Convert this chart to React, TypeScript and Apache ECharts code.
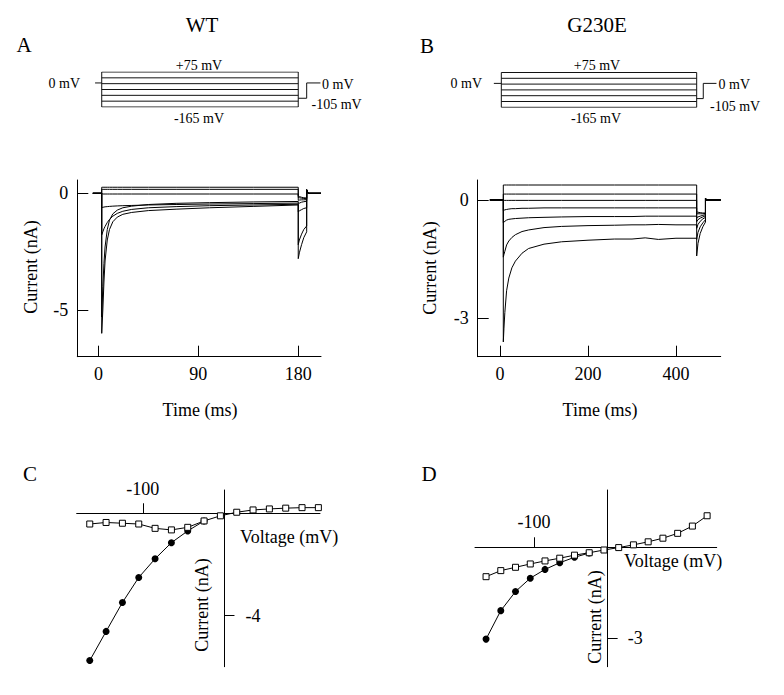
import React, { useEffect, useRef } from "react";
import * as echarts from "echarts";

const FONT = '"Liberation Serif", "Times New Roman", Times, serif';

// ---------- Voltage protocol (mV) ----------
const protocolSteps = [75, 35, -5, -45, -85, -125, -165];
const holdingPotential = 0;
const tailPotential = -105;

// protocol timing (ms)  [holdStart, stepStart, stepEnd, tailEnd, postEnd]
const wtProtocolTimes = [-3, 3, 180, 187.6, 200];
const g230eProtocolTimes = [-14, 3, 447, 462, 492];

// ---------- Panel A: WT current traces (time ms, current nA) ----------
const wtTime = [3, 4, 5, 6, 8, 10, 13, 17, 22, 30, 45, 70, 100, 140, 180];
const wtP75 = [0.26, 0.26, 0.26, 0.26, 0.26, 0.26, 0.26, 0.26, 0.26, 0.26, 0.26, 0.26, 0.26, 0.26, 0.26];
const wtP35 = [0.17, 0.17, 0.17, 0.17, 0.17, 0.17, 0.17, 0.17, 0.17, 0.17, 0.17, 0.17, 0.17, 0.17, 0.17];
const wtM5 = [-0.03, -0.03, -0.03, -0.03, -0.03, -0.03, -0.03, -0.03, -0.03, -0.03, -0.03, -0.03, -0.03, -0.03, -0.03];
const wtM45 = [-0.62, -0.6, -0.59, -0.58, -0.57, -0.56, -0.55, -0.54, -0.53, -0.52, -0.5, -0.48, -0.46, -0.44, -0.42];
const wtM85 = [-1.78, -1.65, -1.52, -1.42, -1.25, -1.12, -0.98, -0.86, -0.77, -0.69, -0.62, -0.57, -0.53, -0.5, -0.47];
const wtM125 = [-5.3, -4.0, -3.0, -2.3, -1.55, -1.15, -0.88, -0.72, -0.62, -0.55, -0.48, -0.43, -0.4, -0.37, -0.35];
const wtM165 = [-6.0, -5.0, -3.8, -2.9, -2.0, -1.55, -1.22, -1.02, -0.9, -0.82, -0.74, -0.68, -0.62, -0.56, -0.5];
const wtTailTime = [180, 181, 183, 185, 187.6];
const wtTailP75 = [-0.12, -0.14, -0.17, -0.19, -0.2];
const wtTailP35 = [-0.18, -0.19, -0.21, -0.22, -0.23];
const wtTailM5 = [-0.3, -0.29, -0.28, -0.28, -0.27];
const wtTailM45 = [-0.45, -0.42, -0.38, -0.36, -0.34];
const wtTailM85 = [-0.8, -0.75, -0.7, -0.65, -0.62];
const wtTailM125 = [-2.2, -2.0, -1.75, -1.55, -1.4];
const wtTailM165 = [-2.8, -2.55, -2.2, -1.9, -1.65];

// ---------- Panel B: G230E current traces ----------
const gTime = [7.5, 9, 11, 15, 20, 27, 35, 50, 65, 100, 140, 200, 260, 300, 330, 360, 400, 447];
const gP75 = [0.38, 0.38, 0.38, 0.38, 0.38, 0.38, 0.38, 0.38, 0.38, 0.38, 0.38, 0.38, 0.38, 0.38, 0.38, 0.38, 0.38, 0.38];
const gP35 = [0.15, 0.15, 0.15, 0.15, 0.15, 0.15, 0.15, 0.15, 0.15, 0.15, 0.15, 0.15, 0.15, 0.15, 0.15, 0.15, 0.15, 0.15];
const gM5 = [-0.01, -0.01, -0.01, -0.01, -0.01, -0.01, -0.01, -0.01, -0.01, -0.01, -0.01, -0.01, -0.01, -0.01, -0.01, -0.01, -0.01, -0.01];
const gM45 = [-0.27, -0.26, -0.25, -0.24, -0.23, -0.22, -0.22, -0.21, -0.21, -0.2, -0.2, -0.2, -0.2, -0.2, -0.2, -0.2, -0.2, -0.2];
const gM85 = [-0.58, -0.56, -0.54, -0.51, -0.49, -0.48, -0.47, -0.46, -0.45, -0.44, -0.43, -0.42, -0.42, -0.42, -0.41, -0.41, -0.41, -0.41];
const gM125 = [-1.45, -1.38, -1.3, -1.14, -1.04, -0.95, -0.88, -0.8, -0.76, -0.7, -0.67, -0.65, -0.64, -0.63, -0.63, -0.62, -0.63, -0.63];
const gM165 = [-3.6, -3.25, -2.85, -2.3, -1.98, -1.72, -1.55, -1.35, -1.23, -1.12, -1.06, -1.02, -0.99, -0.99, -0.96, -1.0, -0.97, -0.97];
const gTailTime = [447, 450, 455, 461, 467];
const gTailP75 = [-0.3, -0.31, -0.32, -0.33, -0.33];
const gTailP35 = [-0.35, -0.35, -0.35, -0.35, -0.34];
const gTailM5 = [-0.45, -0.43, -0.41, -0.39, -0.37];
const gTailM45 = [-0.55, -0.5, -0.46, -0.43, -0.4];
const gTailM85 = [-0.72, -0.62, -0.54, -0.48, -0.44];
const gTailM125 = [-1.0, -0.82, -0.68, -0.58, -0.5];
const gTailM165 = [-1.42, -1.1, -0.85, -0.68, -0.56];

// ---------- Panels C & D: I-V relations ----------
const ivVoltageC = [-165, -145, -125, -105, -85, -65, -45, -25, -5, 15, 35, 55, 75, 95, 115];
const wtSteadyState = [-0.42, -0.36, -0.39, -0.42, -0.59, -0.65, -0.55, -0.3, -0.1, 0.04, 0.13, 0.17, 0.2, 0.22, 0.22];
const ivPeakVoltageC = [-165, -145, -125, -105, -85, -65, -45, -25];
const wtPeak = [-5.76, -4.62, -3.49, -2.51, -1.78, -1.15, -0.69, -0.3];

const ivVoltageD = [-165, -145, -125, -105, -85, -65, -45, -25, -5, 15, 35, 55, 75, 95, 115, 135];
const gSteadyState = [-0.97, -0.77, -0.66, -0.55, -0.45, -0.36, -0.26, -0.18, -0.09, -0.01, 0.08, 0.18, 0.3, 0.46, 0.7, 1.04];
const ivPeakVoltageD = [-165, -145, -125, -105, -85, -65, -45, -25];
const gPeak = [-3.03, -2.09, -1.46, -1.02, -0.73, -0.51, -0.33, -0.19];

// tick values
const ticksTimeA = [0, 90, 180];
const ticksCurrentA = [0, -5];
const ticksTimeB = [0, 200, 400];
const ticksCurrentB = [0, -3];
const ticksVoltageC = [-100];
const ticksCurrentC = [-4];
const ticksVoltageD = [-100];
const ticksCurrentD = [-3];

function buildTrace(preStart: number, times: number[], vals: number[], tailT: number[], tailV: number[], overshoot: number, postEnd: number) {
  const pts: number[][] = [[preStart, 0], [times[0], 0]];
  times.forEach((t, i) => pts.push([t, vals[i]]));
  tailT.forEach((t, i) => pts.push([t, tailV[i]]));
  const last = tailT[tailT.length - 1];
  pts.push([last, overshoot]);
  pts.push([last + 1.2, 0]);
  pts.push([postEnd, 0]);
  return pts;
}

function protocolSeries(times: number[], idx: number) {
  const [hold, start, end, tailEnd, postEnd] = times;
  const base = { type: "line", xAxisIndex: idx, yAxisIndex: idx, showSymbol: false, silent: true, lineStyle: { color: "#111", width: 1 } };
  const out: any[] = protocolSteps.map((v) => ({ ...base, data: [[start, v], [end, v]] }));
  const top = protocolSteps[0];
  const bot = protocolSteps[protocolSteps.length - 1];
  out.push({ ...base, data: [[start, top], [start, bot]] });
  out.push({ ...base, data: [[end, top], [end, bot]] });
  out.push({ ...base, data: [[hold, holdingPotential], [start, holdingPotential]] });
  out.push({ ...base, data: [[end, tailPotential], [tailEnd, tailPotential], [tailEnd, holdingPotential], [postEnd, holdingPotential]] });
  return out;
}

function traceAxisX(idx: number, min: number, max: number, ticks: number[]) {
  return {
    type: "value", gridIndex: idx, min, max,
    axisLine: { onZero: false, lineStyle: { color: "#000", width: 1 } },
    axisTick: { inside: true, length: 11, customValues: ticks, lineStyle: { color: "#000" } },
    axisLabel: { customValues: ticks, margin: 8, color: "#000", fontSize: 18, fontFamily: FONT },
    splitLine: { show: false },
  };
}
function traceAxisY(idx: number, min: number, max: number, ticks: number[]) {
  return {
    type: "value", gridIndex: idx, min, max,
    axisLine: { onZero: false, lineStyle: { color: "#000", width: 1 } },
    axisTick: { inside: true, length: 11, customValues: ticks, lineStyle: { color: "#000" } },
    axisLabel: { customValues: ticks, margin: 9, color: "#000", fontSize: 18, fontFamily: FONT },
    splitLine: { show: false },
  };
}
function ivAxisX(idx: number, min: number, max: number, ticks: number[]) {
  return {
    type: "value", gridIndex: idx, min, max, position: "top",
    axisLine: { onZero: true, lineStyle: { color: "#000", width: 1 } },
    axisTick: { length: 10, customValues: ticks, lineStyle: { color: "#000" } },
    axisLabel: { show: false },
    splitLine: { show: false },
  };
}
function ivAxisY(idx: number, min: number, max: number, ticks: number[]) {
  return {
    type: "value", gridIndex: idx, min, max, position: "right",
    axisLine: { onZero: true, lineStyle: { color: "#000", width: 1 } },
    axisTick: { length: 10, customValues: ticks, lineStyle: { color: "#000" } },
    axisLabel: { show: false },
    splitLine: { show: false },
  };
}
const hidden = (idx: number, min: number, max: number) => ({ type: "value", gridIndex: idx, min, max, show: false, splitLine: { show: false } });

function txt(text: string, x: number, y: number, size: number, align = "center", rotation = 0) {
  return {
    type: "text", x, y, rotation, silent: true,
    style: { text, fill: "#000", font: `${size}px ${FONT}`, align, verticalAlign: "middle" },
  };
}

export default function App() {
  const ref = useRef<HTMLDivElement>(null);
  useEffect(() => {
    if (!ref.current) return;
    const chart = echarts.init(ref.current, null, { renderer: "svg" });

    const traceStyle = { type: "line", showSymbol: false, silent: true, lineStyle: { color: "#000", width: 1 } };
    const wtSets = [
      [wtP75, wtTailP75], [wtP35, wtTailP35], [wtM5, wtTailM5], [wtM45, wtTailM45],
      [wtM85, wtTailM85], [wtM125, wtTailM125], [wtM165, wtTailM165],
    ];
    const gSets = [
      [gP75, gTailP75], [gP35, gTailP35], [gM5, gTailM5], [gM45, gTailM45],
      [gM85, gTailM85], [gM125, gTailM125], [gM165, gTailM165],
    ];
    const wtSeries = wtSets.map(([v, tv]) => ({ ...traceStyle, xAxisIndex: 1, yAxisIndex: 1, data: buildTrace(-5, wtTime, v, wtTailTime, tv, 0.15, 200.5) }));
    const gSeries = gSets.map(([v, tv]) => ({ ...traceStyle, xAxisIndex: 3, yAxisIndex: 3, data: buildTrace(-23, gTime, v, gTailTime, tv, 0.05, 501.6) }));

    const ivLine = { type: "line", silent: true, showSymbol: true, lineStyle: { color: "#000", width: 1 } };
    const ivSeries = [
      { ...ivLine, xAxisIndex: 4, yAxisIndex: 4, z: 2, symbol: "circle", symbolSize: 7, itemStyle: { color: "#000" }, data: ivPeakVoltageC.map((v, i) => [v, wtPeak[i]]) },
      { ...ivLine, xAxisIndex: 4, yAxisIndex: 4, z: 3, symbol: "rect", symbolSize: 6, itemStyle: { color: "#fff", borderColor: "#000", borderWidth: 1 }, data: ivVoltageC.map((v, i) => [v, wtSteadyState[i]]) },
      { ...ivLine, xAxisIndex: 5, yAxisIndex: 5, z: 2, symbol: "circle", symbolSize: 7, itemStyle: { color: "#000" }, data: ivPeakVoltageD.map((v, i) => [v, gPeak[i]]) },
      { ...ivLine, xAxisIndex: 5, yAxisIndex: 5, z: 3, symbol: "rect", symbolSize: 6, itemStyle: { color: "#fff", borderColor: "#000", borderWidth: 1 }, data: ivVoltageD.map((v, i) => [v, gSteadyState[i]]) },
    ];

    const g = (left: number, top: number, width: number, height: number) => ({ left, top, width, height, containLabel: false, outerBoundsMode: "none" });

    const baseGraphics: any[] = [
      txt("WT", 202, 25, 21),
      txt("G230E", 597, 25, 21),
      txt("A", 24, 45, 21),
      txt("B", 427, 46, 21),
      txt("C", 30, 474, 21),
      txt("D", 429, 474, 21),
      // protocol labels A
      txt("+75 mV", 199, 65, 14),
      txt("-165 mV", 199, 118, 14),
      txt("0 mV", 80, 83, 14, "right"),
      txt("0 mV", 322, 84, 14, "left"),
      txt("-105 mV", 311.5, 104, 14, "left"),
      // protocol labels B
      txt("+75 mV", 597, 65.5, 14),
      txt("-165 mV", 596, 118.3, 14),
      txt("0 mV", 482, 83, 14, "right"),
      txt("0 mV", 718.5, 84, 14, "left"),
      txt("-105 mV", 710, 106, 14, "left"),
      // axis titles
      txt("Time (ms)", 200, 410, 18),
      txt("Time (ms)", 600, 410, 18),
      txt("Current (nA)", 30.5, 267, 18, "center", Math.PI / 2),
      txt("Current (nA)", 430, 268, 18, "center", Math.PI / 2),
      txt("Voltage (mV)", 240, 537, 18, "left"),
      txt("Voltage (mV)", 624, 561, 18, "left"),
      txt("Current (nA)", 202, 605, 18, "center", Math.PI / 2),
      txt("Current (nA)", 595, 617, 18, "center", Math.PI / 2),
    ];

    const option: any = {
      animation: false,
      backgroundColor: "#fff",
      textStyle: { fontFamily: FONT },
      grid: [
        g(77.3, 72, 243.7, 35),
        g(77.3, 180, 243.7, 176.7),
        g(477.7, 72.5, 243, 34.8),
        g(477.7, 180, 243, 176.7),
        g(76.7, 490, 243.3, 176.7),
        g(475, 490, 241.7, 176.7),
      ],
      xAxis: [
        hidden(0, -19, 200.5),
        traceAxisX(1, -19, 200.5, ticksTimeA),
        hidden(2, -50.7, 501.6),
        traceAxisX(3, -50.7, 501.6, ticksTimeB),
        ivAxisX(4, -181, 117, ticksVoltageC),
        ivAxisX(5, -180, 148, ticksVoltageD),
      ],
      yAxis: [
        hidden(0, -165, 75),
        traceAxisY(1, -7.0, 0.57, ticksCurrentA),
        hidden(2, -165, 75),
        traceAxisY(3, -3.974, 0.507, ticksCurrentB),
        ivAxisY(4, -6.0, 0.91, ticksCurrentC),
        ivAxisY(5, -3.94, 1.89, ticksCurrentD),
      ],
      series: [
        ...protocolSeries(wtProtocolTimes, 0),
        ...protocolSeries(g230eProtocolTimes, 2),
        ...wtSeries,
        ...gSeries,
        ...ivSeries,
      ],
      graphic: baseGraphics,
    };
    chart.setOption(option);

    // tick labels of the I-V axes, placed next to the axes crossing at zero
    const ivLabels: any[] = [];
    const addIv = (gridIndex: number, vTicks: number[], iTicks: number[], above: number, right: number) => {
      vTicks.forEach((v) => {
        const p = chart.convertToPixel({ gridIndex }, [v, 0]) as number[];
        ivLabels.push(txt(String(v), p[0], p[1] - above, 18));
      });
      iTicks.forEach((c) => {
        const p = chart.convertToPixel({ gridIndex }, [0, c]) as number[];
        ivLabels.push(txt(String(c), p[0] + right, p[1], 18, "left"));
      });
    };
    addIv(4, ticksVoltageC, ticksCurrentC, 24, 21);
    addIv(5, ticksVoltageD, ticksCurrentD, 25, 20);
    chart.setOption({ graphic: [...baseGraphics, ...ivLabels] });

    return () => chart.dispose();
  }, []);

  return (
    <div
      ref={ref}
      style={{ position: "absolute", left: 0, top: 0, width: 784, height: 695, background: "#fff" }}
    />
  );
}
